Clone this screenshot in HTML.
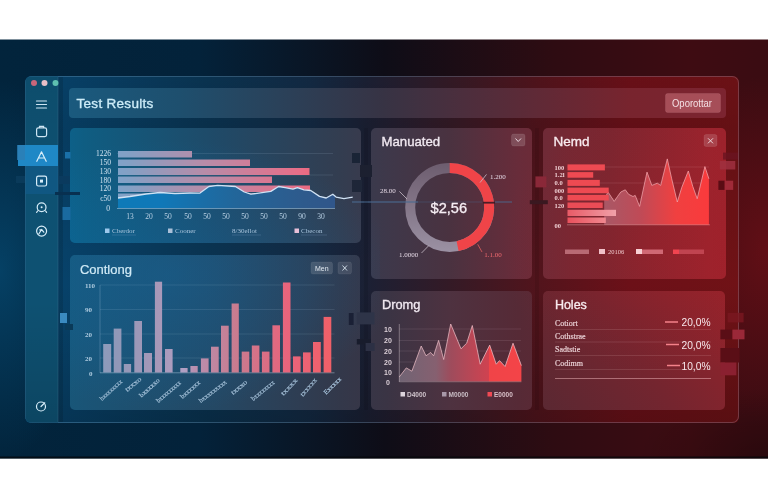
<!DOCTYPE html>
<html><head><meta charset="utf-8"><style>
html,body{margin:0;padding:0;width:768px;height:499px;overflow:hidden;background:#fff}
svg{display:block;font-family:"Liberation Sans",sans-serif;filter:blur(0.35px)}
</style></head><body>
<svg width="768" height="499" viewBox="0 0 768 499">
<defs>
  <linearGradient id="bg" gradientUnits="userSpaceOnUse" x1="0" y1="0" x2="768" y2="0">
    <stop offset="0" stop-color="#02243c"/>
    <stop offset="0.26" stop-color="#03223a"/>
    <stop offset="0.5" stop-color="#0e0d17"/>
    <stop offset="0.72" stop-color="#2e0c12"/>
    <stop offset="0.9" stop-color="#3e0c12"/>
    <stop offset="1" stop-color="#3a0c12"/>
  </linearGradient>
  <radialGradient id="glowL" gradientUnits="userSpaceOnUse" cx="0" cy="270" r="1" gradientTransform="translate(0 270) scale(90 190) translate(0 -270)">
    <stop offset="0" stop-color="#064a72" stop-opacity="0.75"/>
    <stop offset="1" stop-color="#064a72" stop-opacity="0"/>
  </radialGradient>
  <radialGradient id="glowR" gradientUnits="userSpaceOnUse" cx="768" cy="250" r="1" gradientTransform="translate(768 250) scale(100 175) translate(-768 -250)">
    <stop offset="0" stop-color="#7a1018" stop-opacity="0.62"/>
    <stop offset="1" stop-color="#7a1018" stop-opacity="0"/>
  </radialGradient>
  <linearGradient id="win" gradientUnits="userSpaceOnUse" x1="25" y1="0" x2="739" y2="0">
    <stop offset="0.000" stop-color="#08486f"/>
    <stop offset="0.056" stop-color="#07426a"/>
    <stop offset="0.259" stop-color="#0a3452"/>
    <stop offset="0.399" stop-color="#132a44"/>
    <stop offset="0.478" stop-color="#1b2034"/>
    <stop offset="0.595" stop-color="#341a26"/>
    <stop offset="0.718" stop-color="#52141c"/>
    <stop offset="0.847" stop-color="#6c1018"/>
    <stop offset="1.000" stop-color="#701216"/>
  </linearGradient>
  <linearGradient id="winV" x1="0" y1="0" x2="0" y2="1">
    <stop offset="0" stop-color="#000" stop-opacity="0.04"/>
    <stop offset="0.15" stop-color="#000" stop-opacity="0.1"/>
    <stop offset="0.6" stop-color="#000" stop-opacity="0"/>
    <stop offset="1" stop-color="#000" stop-opacity="0.2"/>
  </linearGradient>
  <linearGradient id="sideV" x1="0" y1="0" x2="0" y2="1">
    <stop offset="0" stop-color="#000" stop-opacity="0.05"/>
    <stop offset="0.35" stop-color="#000" stop-opacity="0"/>
    <stop offset="0.65" stop-color="#000" stop-opacity="0"/>
    <stop offset="1" stop-color="#000" stop-opacity="0.14"/>
  </linearGradient>
  <linearGradient id="panT" gradientUnits="userSpaceOnUse" x1="70" y1="0" x2="726" y2="0">
    <stop offset="0" stop-color="#0d6088"/>
    <stop offset="0.023" stop-color="#0f5d82"/>
    <stop offset="0.221" stop-color="#1f4a68"/>
    <stop offset="0.412" stop-color="#333d50"/>
    <stop offset="0.482" stop-color="#3e384a"/>
    <stop offset="0.579" stop-color="#4a3240"/>
    <stop offset="0.683" stop-color="#682c3a"/>
    <stop offset="0.76" stop-color="#752833"/>
    <stop offset="0.823" stop-color="#7a2630"/>
    <stop offset="0.976" stop-color="#9a232d"/>
    <stop offset="1" stop-color="#9c222c"/>
  </linearGradient>
  <linearGradient id="panB" gradientUnits="userSpaceOnUse" x1="70" y1="0" x2="726" y2="0">
    <stop offset="0" stop-color="#185678"/>
    <stop offset="0.023" stop-color="#1a5476"/>
    <stop offset="0.221" stop-color="#244864"/>
    <stop offset="0.412" stop-color="#33384a"/>
    <stop offset="0.482" stop-color="#3a3444"/>
    <stop offset="0.579" stop-color="#4e3240"/>
    <stop offset="0.683" stop-color="#562a36"/>
    <stop offset="0.744" stop-color="#5e2833"/>
    <stop offset="1" stop-color="#72242e"/>
  </linearGradient>
  <linearGradient id="panB6" gradientUnits="userSpaceOnUse" x1="543" y1="410" x2="726" y2="291">
    <stop offset="0" stop-color="#5a2832"/>
    <stop offset="0.5" stop-color="#74252f"/>
    <stop offset="1" stop-color="#94232b"/>
  </linearGradient>
  <linearGradient id="hdr" gradientUnits="userSpaceOnUse" x1="69" y1="0" x2="726" y2="0">
    <stop offset="0" stop-color="#1a5a7e"/>
    <stop offset="0.169" stop-color="#1e4f6e"/>
    <stop offset="0.479" stop-color="#373344"/>
    <stop offset="0.854" stop-color="#78242e"/>
    <stop offset="1" stop-color="#7c2430"/>
  </linearGradient>
  <linearGradient id="hbar" gradientUnits="userSpaceOnUse" x1="118" y1="0" x2="310" y2="0">
    <stop offset="0.000" stop-color="#80a2c8"/>
    <stop offset="0.062" stop-color="#84a0c4"/>
    <stop offset="0.453" stop-color="#b88ca8"/>
    <stop offset="0.948" stop-color="#e86e88"/>
    <stop offset="1.000" stop-color="#ea6a80"/>
  </linearGradient>
  <linearGradient id="vbar" gradientUnits="userSpaceOnUse" x1="100" y1="0" x2="335" y2="0">
    <stop offset="0.000" stop-color="#8c9cbc"/>
    <stop offset="0.072" stop-color="#9098b8"/>
    <stop offset="0.247" stop-color="#a898b8"/>
    <stop offset="0.357" stop-color="#b0a0c4"/>
    <stop offset="0.400" stop-color="#b890b0"/>
    <stop offset="0.574" stop-color="#c87c90"/>
    <stop offset="0.796" stop-color="#e8647c"/>
    <stop offset="0.983" stop-color="#f06068"/>
    <stop offset="1.000" stop-color="#f06068"/>
  </linearGradient>
  <linearGradient id="area5" gradientUnits="userSpaceOnUse" x1="399" y1="0" x2="522" y2="0">
    <stop offset="0" stop-color="#706474"/>
    <stop offset="0.3" stop-color="#866070"/>
    <stop offset="0.42" stop-color="#9e4c5c"/>
    <stop offset="0.73" stop-color="#d04250"/>
    <stop offset="0.735" stop-color="#f04448"/>
    <stop offset="1" stop-color="#f44448"/>
  </linearGradient>
  <linearGradient id="area3" gradientUnits="userSpaceOnUse" x1="604" y1="0" x2="710" y2="0">
    <stop offset="0" stop-color="#a85866"/>
    <stop offset="0.35" stop-color="#c04a56"/>
    <stop offset="0.68" stop-color="#f04040"/>
    <stop offset="1" stop-color="#fa3a3c"/>
  </linearGradient>
  <linearGradient id="area1" gradientUnits="userSpaceOnUse" x1="118" y1="0" x2="335" y2="0">
    <stop offset="0" stop-color="#0e7ab8"/>
    <stop offset="0.2" stop-color="#1078b8"/>
    <stop offset="0.54" stop-color="#22669a"/>
    <stop offset="0.86" stop-color="#2e5a8c"/>
    <stop offset="1" stop-color="#30568a"/>
  </linearGradient>
  <linearGradient id="ring" gradientUnits="userSpaceOnUse" x1="0" y1="165" x2="0" y2="250">
    <stop offset="0" stop-color="#6e5e70"/>
    <stop offset="1" stop-color="#9a90a2"/>
  </linearGradient>
  <linearGradient id="bar7" gradientUnits="userSpaceOnUse" x1="567" y1="0" x2="616" y2="0">
    <stop offset="0" stop-color="#e85a66"/>
    <stop offset="1" stop-color="#f0a0a8"/>
  </linearGradient>
  <linearGradient id="bar8" gradientUnits="userSpaceOnUse" x1="567" y1="0" x2="606" y2="0">
    <stop offset="0" stop-color="#e8505c"/>
    <stop offset="1" stop-color="#f08890"/>
  </linearGradient>
  <radialGradient id="darkBR" gradientUnits="userSpaceOnUse" cx="768" cy="458" r="1" gradientTransform="translate(768 458) scale(130 70) translate(-768 -458)">
    <stop offset="0" stop-color="#000" stop-opacity="0.28"/>
    <stop offset="1" stop-color="#000" stop-opacity="0"/>
  </radialGradient>
  <clipPath id="panClip">
    <rect x="70" y="128" width="291" height="115" rx="5"/>
    <rect x="371" y="128" width="161" height="151" rx="5"/>
    <rect x="543" y="128" width="183" height="151" rx="5"/>
    <rect x="70" y="255" width="290" height="155" rx="5"/>
    <rect x="371" y="291" width="161" height="119" rx="5"/>
    <rect x="543" y="291" width="182" height="119" rx="5"/>
  </clipPath>
  <radialGradient id="pglowB" gradientUnits="userSpaceOnUse" cx="170" cy="275" r="1" gradientTransform="translate(170 275) scale(230 135) translate(-170 -275)">
    <stop offset="0" stop-color="#0a74b8" stop-opacity="0.3"/>
    <stop offset="0.6" stop-color="#0a74b8" stop-opacity="0.15"/>
    <stop offset="1" stop-color="#0a74b8" stop-opacity="0"/>
  </radialGradient>
  <radialGradient id="pglowR" gradientUnits="userSpaceOnUse" cx="650" cy="245" r="1" gradientTransform="translate(650 245) scale(150 140) translate(-650 -245)">
    <stop offset="0" stop-color="#c81820" stop-opacity="0.14"/>
    <stop offset="1" stop-color="#c81820" stop-opacity="0"/>
  </radialGradient>
</defs>

<!-- dark band -->
<rect x="0" y="39.5" width="768" height="419" fill="url(#bg)"/>
<rect x="0" y="39.5" width="120" height="419" fill="url(#glowL)"/>
<rect x="620" y="39.5" width="148" height="419" fill="url(#glowR)"/>
<rect x="640" y="380" width="128" height="78.5" fill="url(#darkBR)"/>
<rect x="0" y="456.5" width="768" height="2" fill="#04050a" opacity="0.75"/>

<!-- window -->
<rect x="25" y="76" width="714" height="347" rx="6" fill="url(#win)"/>
<rect x="25.5" y="76.5" width="713" height="346" rx="6.5" fill="url(#winV)" stroke="rgba(170,210,240,0.22)" stroke-width="1"/>
<path d="M31 76.5 H58 V422.5 H31 A5.5 5.5 0 0 1 25.5 417 V82 A5.5 5.5 0 0 1 31 76.5 Z" fill="#0e5172"/>
<path d="M31 76.5 H58 V422.5 H31 A5.5 5.5 0 0 1 25.5 417 V82 A5.5 5.5 0 0 1 31 76.5 Z" fill="url(#sideV)"/>
<line x1="58" y1="77" x2="58" y2="422" stroke="rgba(255,255,255,0.08)"/>
<circle cx="34" cy="83" r="3" fill="#c8667a"/>
<circle cx="44.5" cy="83" r="3" fill="#e8c0c8"/>
<circle cx="55.5" cy="83" r="3" fill="#5fc0b0"/>

<!-- sidebar icons -->
<g stroke="#cfe6f4" stroke-width="1.2" fill="none" stroke-linecap="round">
  <line x1="36.5" y1="101" x2="46.5" y2="101"/><line x1="36.5" y1="104.5" x2="46.5" y2="104.5"/><line x1="36.5" y1="108" x2="46.5" y2="108"/>
  <rect x="36.6" y="127.8" width="10" height="8.8" rx="1.8"/>
  <path d="M39.5 127.5 V126.3 H43.6 V127.5"/>
</g>
<rect x="25.5" y="166" width="32.5" height="28" fill="#13629a" opacity="0.4"/>
<rect x="18" y="145" width="40" height="21" fill="#1f88c6"/>
<rect x="17.5" y="145" width="7.5" height="15" fill="#2f86c0"/>
<g stroke="#d8eefa" stroke-width="1.2" fill="none" stroke-linecap="round" stroke-linejoin="round">
  <path d="M36.8 161.3 L41.5 151.8 L46.2 161.3 M38.6 158 L44.4 158"/>
  <rect x="36.6" y="176.2" width="10" height="9.8" rx="1.8"/>
  <rect x="40" y="179.6" width="3" height="3" fill="#d8eefa" stroke="none"/>
  <circle cx="41.6" cy="207.3" r="4.4"/>
  <path d="M37.6 211 L36.6 212.3 M45.6 211 L46.6 212.3"/>
  <circle cx="41.6" cy="207.3" r="1" fill="#d8eefa" stroke="none"/>
  <circle cx="41.6" cy="231.1" r="5"/>
  <path d="M38.8 234 L41.6 229.5 L43.8 232.2 M41.6 229.5 L39.8 229.8"/>
  <circle cx="41" cy="406.5" r="4.5"/>
  <path d="M41 406.5 L44.8 402.8"/>
</g>

<!-- header -->
<rect x="69" y="88" width="657" height="30" rx="4" fill="url(#hdr)"/>
<text x="76.5" y="107.8" font-size="13.5" letter-spacing="0.3" fill="#cdecf8" stroke="#cdecf8" stroke-width="0.35">Test Results</text>
<rect x="665.5" y="93.5" width="55" height="19" rx="2" fill="#a64e58" stroke="rgba(255,200,210,0.12)" stroke-width="0.8"/>
<text x="672" y="106.5" font-size="11" fill="#f4e0e4" textLength="40" lengthAdjust="spacingAndGlyphs">Oporottar</text>

<!-- panels -->
<rect x="70" y="128" width="291" height="115" rx="5" fill="url(#panT)"/>
<rect x="371" y="128" width="161" height="151" rx="5" fill="url(#panT)"/>
<rect x="543" y="128" width="183" height="151" rx="5" fill="url(#panT)"/>
<rect x="70" y="255" width="290" height="155" rx="5" fill="url(#panB)"/>
<rect x="371" y="291" width="161" height="119" rx="5" fill="url(#panB)"/>
<rect x="543" y="291" width="182" height="119" rx="5" fill="url(#panB6)"/>

<g clip-path="url(#panClip)">
  <rect x="60" y="120" width="320" height="300" fill="url(#pglowB)"/>
  <rect x="500" y="100" width="268" height="320" fill="url(#pglowR)"/>
</g>

<!-- ===== Panel 1: horizontal bars + area ===== -->
<g id="p1">
  <g stroke="rgba(190,215,240,0.12)" stroke-width="1">
    <line x1="117" y1="153.5" x2="333" y2="153.5"/>
    <line x1="117" y1="175" x2="333" y2="175"/>
  </g>
  <g fill="url(#hbar)">
    <rect x="118" y="151" width="74" height="6.5"/>
    <rect x="118" y="159.5" width="132" height="6.5"/>
    <rect x="118" y="168" width="191.5" height="7"/>
    <rect x="118" y="176.5" width="154" height="6.5"/>
    <rect x="118" y="185.5" width="192" height="6.5"/>
    <rect x="118" y="193.5" width="150" height="6"/>
  </g>
  <path d="M118 198 L130 196.5 L146 194 L160 192.5 L175 193.5 L190 193 L200 193.1 L208.9 186.5 L217.7 185.4 L235.4 186.5 L244.3 192 L250.9 194.2 L262 192.7 L270.8 191.4 L278.6 186.5 L285.2 187.6 L293 189.1 L297.4 187.6 L304 189.8 L310.7 190.5 L319.5 196.4 L326.2 198 L332.8 194.2 L335 196 L335 208 L118 208 Z" fill="url(#area1)"/>
  <path d="M118 198 L130 196.5 L146 194 L160 192.5 L175 193.5 L190 193 L200 193.1 L208.9 186.5 L217.7 185.4 L235.4 186.5 L244.3 192 L250.9 194.2 L262 192.7 L270.8 191.4 L278.6 186.5 L285.2 187.6 L293 189.1 L297.4 187.6 L304 189.8 L310.7 190.5 L319.5 196.4 L326.2 198 L332.8 194.2 L336.1 197.1 L343.9 198.7 L352.7 197.1" fill="none" stroke="#d0e2f4" stroke-width="1.3" stroke-linejoin="round"/>
  <line x1="117" y1="208.5" x2="335" y2="208.5" stroke="rgba(170,205,235,0.55)"/>
  <g font-size="7.5" fill="#d0e2f0" text-anchor="end" font-family="Liberation Serif">
    <text x="111" y="156">1226</text><text x="111" y="164.5">150</text><text x="111" y="173.5">130</text>
    <text x="111" y="182.5">180</text><text x="111" y="191">120</text><text x="111" y="201">c50</text><text x="110" y="211">0</text>
  </g>
  <g font-family="Liberation Serif" font-size="7.5" fill="#b8d0e4" text-anchor="middle">
    <text x="130" y="218.5">13</text><text x="149" y="218.5">20</text><text x="168" y="218.5">50</text><text x="188" y="218.5">50</text>
    <text x="207" y="218.5">50</text><text x="226" y="218.5">50</text><text x="245" y="218.5">50</text><text x="264" y="218.5">50</text>
    <text x="283" y="218.5">50</text><text x="302" y="218.5">90</text><text x="321" y="218.5">30</text>
  </g>
  <g font-family="Liberation Serif" font-size="7" fill="#a8c4dc">
    <rect x="105" y="228.5" width="4.5" height="4.5" fill="#9cc8ec"/><text x="112" y="233">Cberdor</text>
    <rect x="168" y="228.5" width="4.5" height="4.5" fill="#aac0d8"/><text x="175" y="233">Cooner</text>
    <text x="232" y="233">8/30ellot</text>
    <rect x="294.5" y="228.5" width="4.5" height="4.5" fill="#e8c0d8"/><text x="301" y="233">Cbecon</text>
  </g>
  <g stroke="rgba(160,190,220,0.35)" stroke-width="0.6">
    <line x1="112" y1="235" x2="136" y2="235"/><line x1="232" y1="235" x2="261" y2="235"/><line x1="301" y1="235" x2="327" y2="235"/>
  </g>
</g>

<!-- ===== Panel 2: donut ===== -->
<g id="p2">
  <text x="381.5" y="145.8" font-size="13.2" fill="#f0e8f0" stroke="#f0e8f0" stroke-width="0.35">Manuated</text>
  <rect x="511.5" y="134" width="13.5" height="12" rx="2" fill="rgba(255,255,255,0.16)" stroke="rgba(255,255,255,0.12)" stroke-width="0.6"/>
  <path d="M515.5 138.5 L518.2 141.5 L521 138.5" stroke="#e8d8e0" fill="none" stroke-width="1"/>
  <circle cx="449.7" cy="207.4" r="39.5" fill="none" stroke="url(#ring)" stroke-width="10"/>
  <path d="M449.7 167.9 A39.5 39.5 0 0 1 457.6 246.1" fill="none" stroke="#f04448" stroke-width="10"/>
  <line x1="352" y1="202" x2="418" y2="202" stroke="#4a6a90" stroke-width="2" opacity="0.55"/>
  <line x1="418" y1="202" x2="482" y2="202" stroke="#4a6a90" stroke-width="2" opacity="0.18"/>
  <line x1="495" y1="202" x2="512" y2="202" stroke="#4a6a90" stroke-width="2" opacity="0.45"/>
  <rect x="483" y="201.8" width="12" height="1.8" fill="#3a1a24" opacity="0.9"/>
  <text x="448.8" y="213.4" font-size="14.6" fill="#f6eef4" stroke="#f6eef4" stroke-width="0.3" text-anchor="middle">$2,56</text>
  <g font-family="Liberation Serif" font-size="7" fill="#e4d8e4">
    <text x="490" y="178.5">1.200</text>
    <text x="380" y="192.5">28.00</text>
    <text x="399" y="256.5">1.0000</text>
    <text x="484.3" y="256.5" fill="#f06a70">1.1.00</text>
  </g>
  <g stroke="#c8bcc8" stroke-width="0.8">
    <line x1="480" y1="182.6" x2="486.5" y2="174.4"/>
    <line x1="399.4" y1="191.4" x2="407" y2="199"/>
    <line x1="421.5" y1="253" x2="429" y2="245.4"/>
    <line x1="477.7" y1="244.3" x2="482" y2="252" stroke="#e06060"/>
  </g>
</g>

<!-- ===== Panel 3: Nemd ===== -->
<g id="p3">
  <text x="553.5" y="146" font-size="13.5" fill="#f8eaee" stroke="#f8eaee" stroke-width="0.35">Nemd</text>
  <rect x="704" y="134.5" width="13" height="12" rx="2" fill="rgba(255,255,255,0.15)" stroke="rgba(255,255,255,0.12)" stroke-width="0.6"/>
  <path d="M708 138.3 L713 143.3 M713 138.3 L708 143.3" stroke="#ecd4d8" fill="none" stroke-width="1"/>
  <g stroke="rgba(255,200,200,0.12)">
    <line x1="567" y1="167" x2="709" y2="167"/>
    <line x1="567" y1="183" x2="709" y2="183"/>
    <line x1="567" y1="199" x2="709" y2="199"/>
    <line x1="567" y1="213" x2="709" y2="213"/>
  </g>
  <path d="M604.2 224.8 L604.2 199.8 L608 192 L614.2 201.4 L617.5 196.5 L620.8 192 L625.3 189.8 L628.6 194.3 L633 196.5 L635.2 195.4 L639.6 206.4 L647 172.1 L651.8 185.4 L657.3 183.2 L660.7 185.4 L667.3 158.9 L671.7 178.8 L677.3 202 L681.7 187.6 L688.3 171 L692.8 186.5 L697.2 198.7 L704.9 166.6 L708.9 178.8 L708.9 224.8 Z" fill="url(#area3)"/>
  <path d="M604.2 199.8 L608 192 L614.2 201.4 L617.5 196.5 L620.8 192 L625.3 189.8 L628.6 194.3 L633 196.5 L635.2 195.4 L639.6 206.4 L647 172.1 L651.8 185.4 L657.3 183.2 L660.7 185.4 L667.3 158.9 L671.7 178.8 L677.3 202 L681.7 187.6 L688.3 171 L692.8 186.5 L697.2 198.7 L704.9 166.6 L708.9 178.8" fill="none" stroke="#f4a8b0" stroke-width="0.9" opacity="0.8" stroke-linejoin="round"/>
  <g>
    <rect x="567.5" y="164.4" width="37.4" height="6" fill="#ee4a52"/>
    <rect x="567.5" y="172.1" width="25.7" height="5.6" fill="#ee4a52"/>
    <rect x="567.5" y="179.9" width="32.3" height="6" fill="#ee4a52"/>
    <rect x="567.5" y="187.6" width="41.2" height="5.6" fill="#ee4a52"/>
    <rect x="567.5" y="194.9" width="41.2" height="5.6" fill="#ee4a52"/>
    <rect x="567.5" y="202.5" width="35.2" height="5.5" fill="#ea4c56"/>
    <rect x="567.5" y="209.8" width="48.5" height="6.2" fill="url(#bar7)"/>
    <rect x="567.5" y="217.5" width="38.3" height="5.5" fill="url(#bar8)"/>
  </g>
  <line x1="567" y1="224.8" x2="710" y2="224.8" stroke="rgba(255,200,200,0.35)"/>
  <g font-family="Liberation Serif" font-weight="bold" font-size="6.5" fill="#f0d0d4">
    <text x="554.5" y="169.5">100</text><text x="554.5" y="177">1.2l</text><text x="554.5" y="185">0.0</text>
    <text x="554.5" y="192.5">000</text><text x="554.5" y="200">0.0</text><text x="554.5" y="207.5">120</text>
    <text x="554.5" y="227.5">00</text>
  </g>
  <rect x="565" y="249.5" width="24" height="4.5" fill="#b86a74"/>
  <rect x="599" y="249" width="6" height="5" fill="#f0c0c8"/>
  <text x="608" y="254" font-family="Liberation Serif" font-size="6.5" fill="#f0c8cc">20106</text>
  <rect x="636" y="249" width="6" height="5" fill="#f8d0d4"/>
  <rect x="642" y="249.5" width="21" height="4.5" fill="#d06874"/>
  <rect x="673" y="249.5" width="6" height="4.5" fill="#f04450"/>
  <rect x="679" y="249.5" width="25" height="4.5" fill="#c04450"/>
</g>

<!-- ===== Panel 4: Contlong vertical bars ===== -->
<g id="p4">
  <text x="79.9" y="273.6" font-size="13" fill="#d0eaf6" stroke="#d0eaf6" stroke-width="0.2">Contlong</text>
  <rect x="311" y="262" width="21.5" height="12" rx="2" fill="rgba(255,255,255,0.13)" stroke="rgba(255,255,255,0.1)" stroke-width="0.6"/>
  <text x="321.75" y="271" font-size="7" fill="#e0e8f0" text-anchor="middle">Men</text>
  <rect x="338" y="262" width="13.5" height="12" rx="2" fill="rgba(255,255,255,0.10)" stroke="rgba(255,255,255,0.1)" stroke-width="0.6"/>
  <path d="M342.5 265.5 L347 270.5 M347 265.5 L342.5 270.5" stroke="#d8e4ee" stroke-width="0.9"/>
  <g stroke="rgba(190,215,240,0.12)">
    <line x1="100" y1="285" x2="334.5" y2="285"/>
    <line x1="100" y1="309.5" x2="334.5" y2="309.5"/>
    <line x1="100" y1="334" x2="334.5" y2="334"/>
    <line x1="100" y1="358" x2="334.5" y2="358"/>
  </g>
  <line x1="100" y1="285" x2="100" y2="373" stroke="rgba(200,225,245,0.22)"/>
  <line x1="100" y1="372.8" x2="334.5" y2="372.8" stroke="rgba(200,225,245,0.4)"/>
  <g fill="url(#vbar)">
    <rect x="103.2" y="344" width="8" height="28.5"/>
    <rect x="113.7" y="328.6" width="7.7" height="44"/>
    <rect x="123.8" y="364" width="7.3" height="8.5"/>
    <rect x="134.3" y="321" width="7.7" height="51.5"/>
    <rect x="144" y="353" width="8" height="19.5"/>
    <rect x="154.9" y="281.7" width="7.2" height="90.8"/>
    <rect x="165" y="349" width="7.6" height="23.5"/>
    <rect x="180.3" y="368" width="7.3" height="4.5"/>
    <rect x="190.4" y="366" width="7.3" height="6.5"/>
    <rect x="200.9" y="358.4" width="7.7" height="14.1"/>
    <rect x="211" y="346.7" width="7.7" height="25.8"/>
    <rect x="221" y="325.7" width="7.7" height="46.8"/>
    <rect x="231.6" y="303.5" width="7.2" height="69"/>
    <rect x="241.7" y="351.6" width="7.6" height="20.9"/>
    <rect x="251.8" y="345.5" width="7.6" height="27"/>
    <rect x="261.9" y="351.6" width="7.6" height="20.9"/>
    <rect x="272.4" y="325.3" width="7.6" height="47.2"/>
    <rect x="282.9" y="282.5" width="7.6" height="90"/>
    <rect x="293" y="356.4" width="7.6" height="16.1"/>
    <rect x="303" y="352.4" width="7.7" height="20.1"/>
    <rect x="313" y="342" width="7.8" height="30.5"/>
    <rect x="323.6" y="316.9" width="7.7" height="55.6"/>
  </g>
  <g font-family="Liberation Serif" font-weight="bold" font-size="7" fill="#b0cce0">
    <text x="85" y="287.5">110</text><text x="85" y="312">90</text><text x="85" y="336.5">20</text>
    <text x="85" y="360.5">20</text><text x="89" y="375.5">0</text>
  </g>
  <g font-family="Liberation Serif" font-size="6.6" fill="#a8c4dc" stroke="#a8c4dc" stroke-width="0.15">
    <text transform="translate(101.9 400.9) rotate(-42)" textLength="28" lengthAdjust="spacingAndGlyphs">bxxxxxxxx</text>
    <text transform="translate(127.3 392.0) rotate(-40)" textLength="19" lengthAdjust="spacingAndGlyphs">txxxo</text>
    <text transform="translate(141.5 397.7) rotate(-42)" textLength="25" lengthAdjust="spacingAndGlyphs">bxxxxxo</text>
    <text transform="translate(158.4 402.9) rotate(-40)" textLength="30" lengthAdjust="spacingAndGlyphs">bxxxxxxxxx</text>
    <text transform="translate(182.6 398.9) rotate(-41)" textLength="24" lengthAdjust="spacingAndGlyphs">bxxxxxx</text>
    <text transform="translate(200.8 402.9) rotate(-37)" textLength="33" lengthAdjust="spacingAndGlyphs">bxxxxxxxxx</text>
    <text transform="translate(233.1 394.9) rotate(-39)" textLength="19" lengthAdjust="spacingAndGlyphs">txxxo</text>
    <text transform="translate(253.3 400.9) rotate(-39)" textLength="28" lengthAdjust="spacingAndGlyphs">bxxxxxxxx</text>
    <text transform="translate(283.5 396.1) rotate(-47)" textLength="21" lengthAdjust="spacingAndGlyphs">txxxx</text>
    <text transform="translate(302.9 396.9) rotate(-49)" textLength="22" lengthAdjust="spacingAndGlyphs">txxxxx</text>
    <text transform="translate(325.9 394.9) rotate(-44)" textLength="22" lengthAdjust="spacingAndGlyphs">Exxxxx</text>
  </g>
</g>

<!-- ===== Panel 5: Dromg ===== -->
<g id="p5">
  <text x="381.9" y="308.8" font-size="12.8" fill="#f0e8f0" stroke="#f0e8f0" stroke-width="0.35">Dromg</text>
  <g stroke="rgba(255,230,240,0.10)">
    <line x1="399" y1="329" x2="521" y2="329"/>
    <line x1="399" y1="340.5" x2="521" y2="340.5"/>
    <line x1="399" y1="351" x2="521" y2="351"/>
    <line x1="399" y1="362" x2="521" y2="362"/>
  </g>
  <path d="M399.3 376.9 L406.3 367.9 L411.9 371.2 L421.2 346 L426 355.8 L430.7 352.4 L433.6 355.8 L438.6 340.4 L443.7 359.5 L450.7 324 L461 348.8 L466.7 343.2 L472.3 325.5 L480.2 364.2 L489.7 345.1 L496.2 364.2 L499.5 360.6 L505.1 366.5 L513 343.2 L521.4 365.6 L521.4 381.6 L399.3 381.6 Z" fill="url(#area5)"/>
  <path d="M399.3 376.9 L406.3 367.9 L411.9 371.2 L421.2 346 L426 355.8 L430.7 352.4 L433.6 355.8 L438.6 340.4 L443.7 359.5 L450.7 324 L461 348.8 L466.7 343.2 L472.3 325.5 L480.2 364.2 L489.7 345.1 L496.2 364.2 L499.5 360.6 L505.1 366.5 L513 343.2 L521.4 365.6" fill="none" stroke="#f0c0c8" stroke-width="0.9" opacity="0.8" stroke-linejoin="round"/>
  <line x1="399.3" y1="324" x2="399.3" y2="382" stroke="rgba(255,240,245,0.35)"/>
  <line x1="399.3" y1="381.8" x2="521.4" y2="381.8" stroke="rgba(255,240,245,0.25)"/>
  <g font-size="7" font-weight="bold" fill="#dcd0d8">
    <text x="384" y="331.5">10</text><text x="384" y="343">20</text><text x="384" y="353.5">20</text>
    <text x="384" y="364.5">20</text><text x="384" y="375">10</text><text x="386" y="385">0</text>
  </g>
  <rect x="400.5" y="392" width="4.5" height="4.5" fill="#dcd4dc"/>
  <text x="407" y="397" font-size="6.5" font-weight="bold" fill="#d0c4cc">D4000</text>
  <rect x="442" y="392" width="4.5" height="4.5" fill="#a898a8"/>
  <text x="448.5" y="397" font-size="6.5" font-weight="bold" fill="#c8bcc4">M0000</text>
  <rect x="487.5" y="392" width="4.5" height="4.5" fill="#f04a54"/>
  <text x="494" y="397" font-size="6.5" font-weight="bold" fill="#d8c0c8">E0000</text>
</g>

<!-- ===== Panel 6: Holes ===== -->
<g id="p6">
  <text x="554.9" y="309.2" font-size="12.5" fill="#f8eaee" stroke="#f8eaee" stroke-width="0.35">Holes</text>
  <g font-family="Liberation Serif" font-size="8" fill="#ecd4d8" stroke="#ecd4d8" stroke-width="0.15">
    <text x="555" y="325.5">Cotiort</text>
    <text x="555" y="339">Cothstrae</text>
    <text x="555" y="351.5">Sadtstie</text>
    <text x="555" y="366">Codimm</text>
  </g>
  <g stroke="rgba(255,220,220,0.13)">
    <line x1="555" y1="329.5" x2="711" y2="329.5"/>
    <line x1="555" y1="342" x2="711" y2="342"/>
    <line x1="555" y1="355.5" x2="711" y2="355.5"/>
    <line x1="555" y1="369.5" x2="711" y2="369.5"/>
  </g>
  <line x1="555" y1="378.5" x2="711" y2="378.5" stroke="rgba(255,200,205,0.45)"/>
  <g stroke="#f4828a" stroke-width="1.5">
    <line x1="665" y1="322" x2="678" y2="322"/>
    <line x1="666" y1="344.5" x2="679" y2="344.5"/>
    <line x1="667" y1="365.5" x2="680" y2="365.5"/>
  </g>
  <g font-size="10" fill="#f8e8ec" text-anchor="end">
    <text x="710.5" y="326" textLength="29" lengthAdjust="spacingAndGlyphs">20,0%</text>
    <text x="710.5" y="348.5" textLength="29" lengthAdjust="spacingAndGlyphs">20,0%</text>
    <text x="710.5" y="369.5" textLength="29" lengthAdjust="spacingAndGlyphs">10,0%</text>
  </g>
</g>

<!-- ===== glitch blocks ===== -->
<g id="glitch">
  <rect x="58.5" y="77" width="4.5" height="345" fill="#000" opacity="0.12"/>
  <rect x="17.5" y="145" width="7.5" height="15" fill="#2a80b8"/>
  <rect x="65" y="152" width="5.5" height="6.5" fill="#1a70a8"/>
  <rect x="16" y="176" width="9" height="7" fill="#0a3a5a"/>
  <rect x="59" y="176" width="11" height="8" fill="#0a3a5e"/>
  <rect x="55" y="192" width="25" height="3" fill="#083050"/>
  <rect x="62.5" y="207" width="8" height="13" fill="#1a6aa0"/>
  <rect x="60" y="313" width="7" height="10" fill="#3a8ac0"/>
  <rect x="65" y="324" width="8" height="6" fill="#0a3a58"/>
  <rect x="364" y="128" width="4" height="282" fill="#000" opacity="0.08"/>
  <rect x="352" y="153" width="8" height="10" fill="#1a2436"/>
  <rect x="360" y="165" width="12" height="12" fill="#1c2030"/>
  <rect x="352" y="180" width="10" height="12" fill="#1e2638"/>
  <rect x="356.8" y="312.4" width="17.7" height="12" fill="#2e3448"/>
  <rect x="348.8" y="313" width="4.8" height="12" fill="#1a2035"/>
  <rect x="356.8" y="339" width="14" height="5.5" fill="#181c2c"/>
  <rect x="365.6" y="343" width="9" height="8" fill="#2c3044"/>
  <rect x="535" y="128" width="4" height="282" fill="#000" opacity="0.08"/>
  <rect x="535.4" y="176.4" width="11" height="11" fill="#8a2838"/>
  <rect x="529.8" y="200.2" width="18" height="4" fill="#3a1820"/>
  <rect x="723" y="152.6" width="15" height="7" fill="#6a1420" opacity="0.8"/>
  <rect x="719.8" y="161" width="15.5" height="8.5" fill="#a03040" opacity="0.85"/>
  <rect x="718.4" y="180.7" width="6.3" height="9.2" fill="#5a0c14"/>
  <rect x="724.7" y="180.7" width="8.5" height="9.2" fill="#a02a38"/>
  <rect x="727.6" y="312.8" width="16" height="9.6" fill="#7a1820" opacity="0.8"/>
  <rect x="720.4" y="329.6" width="12" height="9.7" fill="#5a0e16"/>
  <rect x="732.4" y="329.6" width="12.1" height="9.7" fill="#9a2838"/>
  <rect x="720.4" y="348" width="19.2" height="14.5" fill="#5a0e16"/>
  <rect x="720.4" y="362.5" width="16" height="12.8" fill="#8a2030"/>
</g>
</svg>
</body></html>
